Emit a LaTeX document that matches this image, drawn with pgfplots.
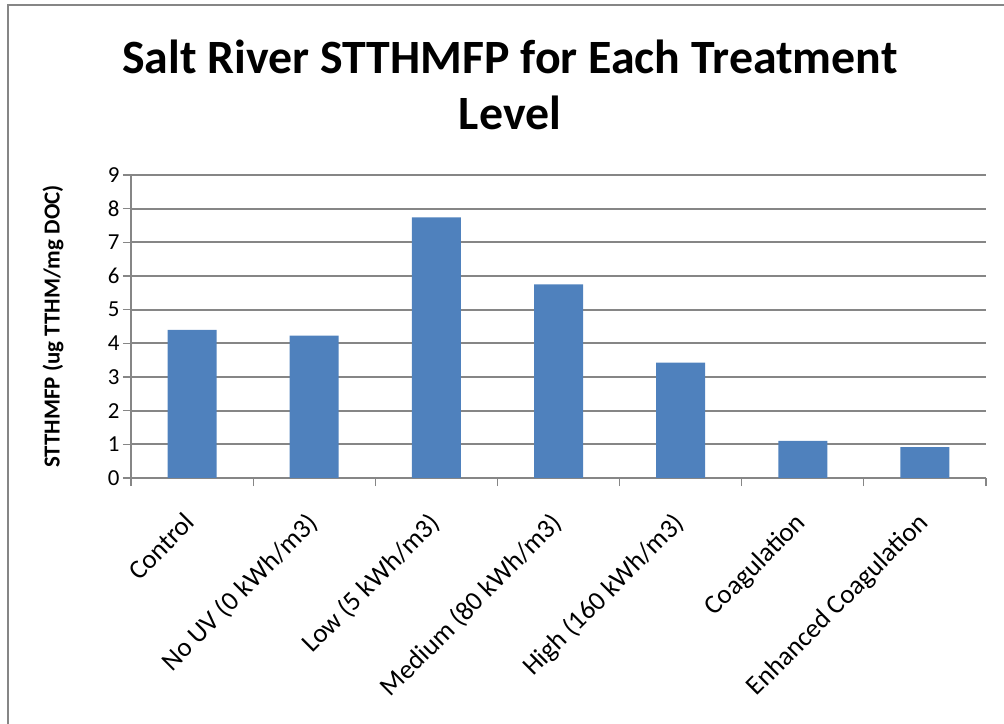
\documentclass[border=0pt]{standalone}
\usepackage{pgfplots}
\pgfplotsset{compat=1.18}
\usepackage{fontspec}
\setmainfont{Carlito}
\definecolor{barblue}{HTML}{4F81BD}
\definecolor{gridgray}{HTML}{868686}
\begin{document}
\begin{tikzpicture}
\useasboundingbox (0bp,0bp) rectangle (1004bp,724bp);
\draw[gridgray,line width=1.5bp] (8bp,-5bp) -- (8bp,719bp) -- (1010bp,719bp);
\node[font=\bfseries\fontsize{48}{56}\selectfont,align=center] at (510bp,639bp) {Salt River STTHMFP for Each Treatment\\Level};
\begin{axis}[
  at={(131bp,246bp)}, anchor=south west,
  width=855bp, height=303bp, scale only axis,
  xmin=-0.5, xmax=6.5, ymin=0, ymax=9,
  ytick={0,1,...,9},
  xtick={0,...,6},
  xticklabels={Control,No UV (0 kWh/m3),Low (5 kWh/m3),Medium (80 kWh/m3),High (160 kWh/m3),Coagulation,Enhanced Coagulation},
  minor xtick={-0.5,0.5,...,6.5},
  major x tick style={draw=none},
  minor tick length=8bp,
  major tick length=8bp,
  tick style={gridgray,line width=1.2bp},
  xtick pos=bottom, ytick pos=left,
  tick align=outside,
  ymajorgrids,
  grid style={gridgray,line width=1.8bp},
  axis line style={gridgray,line width=1.5bp},
  axis x line*=bottom, axis y line*=left,
  x tick label style={xshift=-9bp,yshift=-20bp,rotate=45,anchor=north east,font=\fontsize{27}{31}\selectfont},
  y tick label style={font=\fontsize{23}{27}\selectfont},
  /pgf/number format/assume math mode=true,
  ylabel={STTHMFP (ug TTHM/mg DOC)},
  ylabel style={font=\bfseries\fontsize{23}{27}\selectfont,at={(axis description cs:0,0.5)},anchor=center,yshift=78bp},
  ybar, bar width=49bp,
]
\addplot[fill=barblue,draw=none] coordinates {(0,4.40) (1,4.23) (2,7.74) (3,5.75) (4,3.43) (5,1.10) (6,0.92)};
\end{axis}
\end{tikzpicture}
\end{document}
